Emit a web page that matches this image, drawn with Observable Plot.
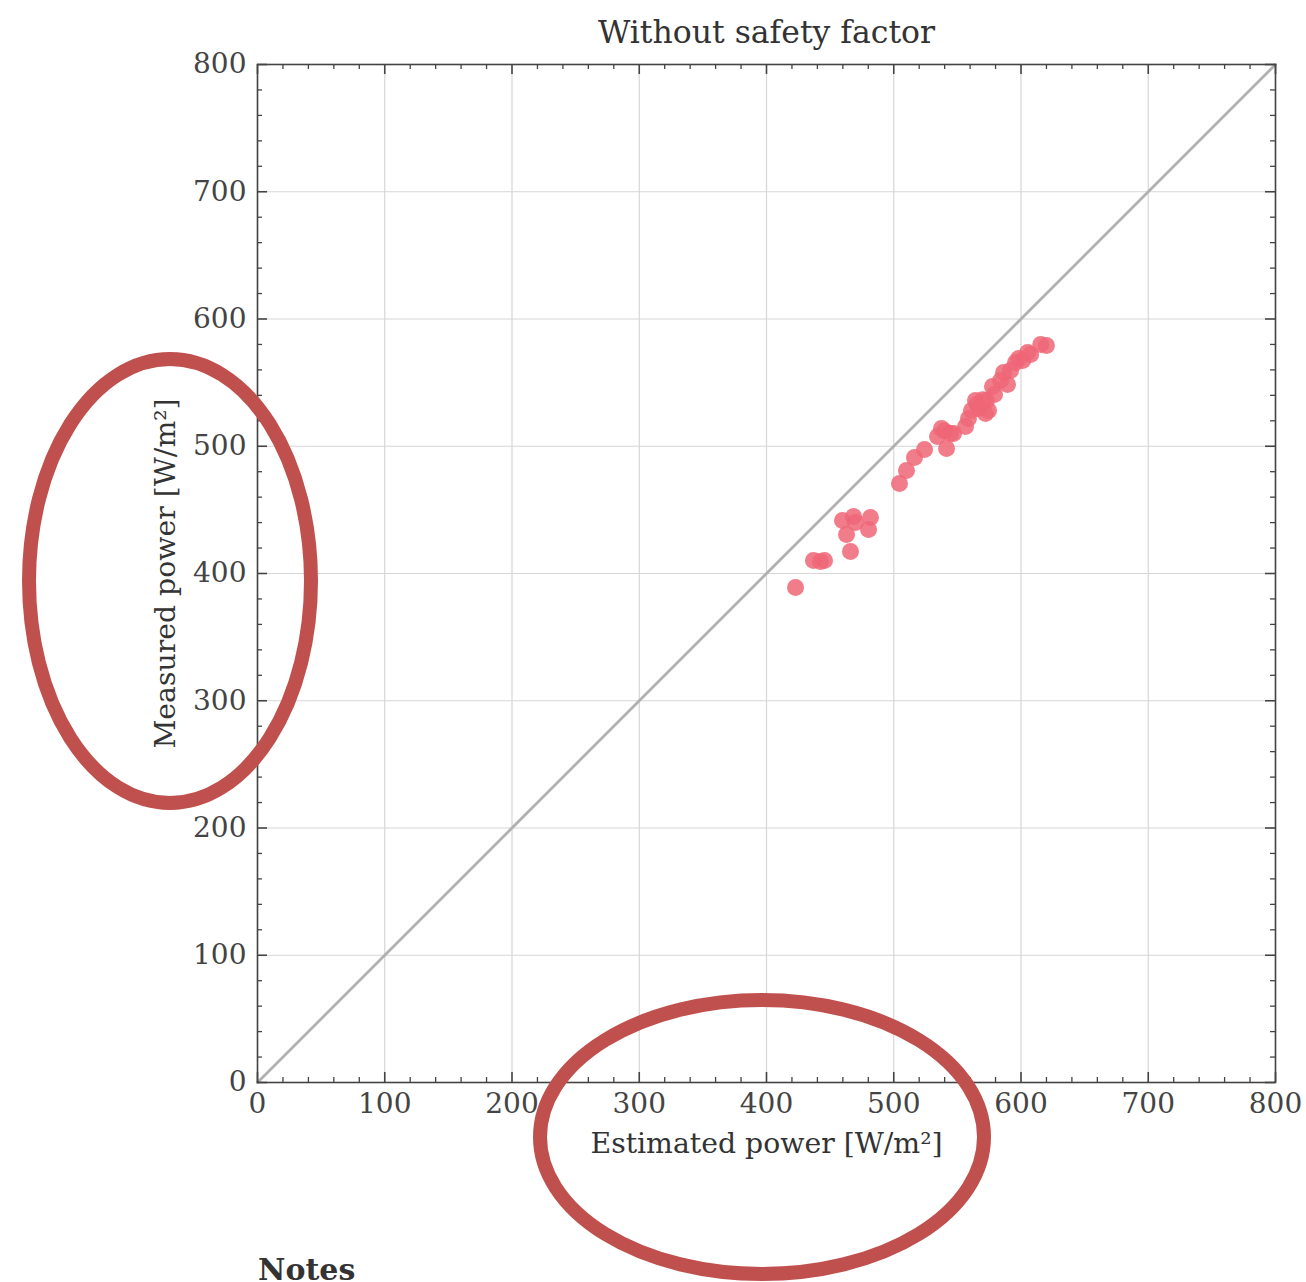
<!DOCTYPE html>
<html><head><meta charset="utf-8">
<script src="https://cdn.jsdelivr.net/npm/d3@7"></script>
<script src="https://cdn.jsdelivr.net/npm/@observablehq/plot@0.6"></script>
<style>
body{margin:0;background:#fff;}
#wrap{position:relative;width:1306px;height:1282px;overflow:hidden;font-family:"DejaVu Serif",serif;}
#notes{position:absolute;left:258px;top:1252px;font-weight:bold;font-size:30px;color:#333;font-family:"DejaVu Serif",serif;}
#marks{position:absolute;left:0;top:0;pointer-events:none;}
</style></head>
<body><div id="wrap"></div>
<script>
const titleText = "Without safety factor";
const xLabel = "Estimated power [W/m²]";
const yLabel = "Measured power [W/m²]";
const estimated = [422.8,436.9,442.4,445.6,459.7,462.9,466.0,468.4,469.9,481.7,480.2,504.5,510.0,516.3,524.2,534.4,537.5,541.5,544.6,547.0,556.4,558.7,561.1,564.2,567.4,572.1,574.5,572.9,577.6,579.2,583.9,586.3,589.4,591.8,595.7,598.1,601.3,605.2,607.6,615.5,620.0,540.0,565.5,570.0];
const measured  = [389.0,410.2,409.4,410.2,441.7,430.6,417.3,444.8,440.1,444.0,434.6,470.7,481.0,491.2,497.4,507.7,513.9,498.2,510.0,510.0,515.5,521.8,528.1,536.0,529.7,525.7,528.1,536.0,547.0,540.7,551.7,558.0,548.5,559.6,565.8,569.0,567.4,573.7,572.1,580.0,579.2,512.0,533.0,536.5];
const majorTicks = [0,100,200,300,400,500,600,700,800];
const minorTicks = [20,40,60,80,120,140,160,180,220,240,260,280,320,340,360,380,420,440,460,480,520,540,560,580,620,640,660,680,720,740,760,780];
const domain = [0, 800];
const diagonal = [{v:0},{v:800}];

const W = 1306, H = 1200, mL = 257, mR = 31, mT = 64, mB = 118;
const k = (W - mL - mR) / (domain[1] - domain[0]);
const majLen = 10 / k, minLen = 5 / k;
const pts = estimated.map((e, i) => ({e, m: measured[i]}));
const axisColor = "#444";

function inwardTicks(vals, len, sw) {
  return [
    Plot.ruleX(vals, {x: d => d, y1: domain[0], y2: domain[0] + len, stroke: axisColor, strokeWidth: sw}),
    Plot.ruleX(vals, {x: d => d, y1: domain[1], y2: domain[1] - len, stroke: axisColor, strokeWidth: sw}),
    Plot.ruleY(vals, {y: d => d, x1: domain[0], x2: domain[0] + len, stroke: axisColor, strokeWidth: sw}),
    Plot.ruleY(vals, {y: d => d, x1: domain[1], x2: domain[1] - len, stroke: axisColor, strokeWidth: sw})
  ];
}

const chart = Plot.plot({
  width: W, height: H,
  marginLeft: mL, marginRight: mR, marginTop: mT, marginBottom: mB,
  style: {fontFamily: "'DejaVu Serif', serif", color: axisColor, background: "#fff"},
  x: {domain, ticks: majorTicks, label: null},
  y: {domain, ticks: majorTicks, label: null},
  marks: [
    Plot.gridX(majorTicks, {stroke: "#d6d6d6", strokeOpacity: 1, strokeWidth: 1.2}),
    Plot.gridY(majorTicks, {stroke: "#d6d6d6", strokeOpacity: 1, strokeWidth: 1.2}),
    Plot.line(diagonal, {x: "v", y: "v", stroke: "#b0b0b0", strokeWidth: 2.8}),
    Plot.dot(pts, {x: "e", y: "m", r: 8.5, fill: "#EE6677", fillOpacity: 0.85, stroke: null}),
    ...inwardTicks(majorTicks, majLen, 1.6),
    ...inwardTicks(minorTicks, minLen, 1.3),
    Plot.frame({stroke: axisColor, strokeWidth: 1.6}),
    Plot.axisX(majorTicks, {anchor: "bottom", tickSize: 0, tickPadding: 11, fontSize: 28, label: null, fill: axisColor}),
    Plot.axisY(majorTicks, {anchor: "left", tickSize: 0, tickPadding: 11, fontSize: 28, label: null, fill: axisColor}),
    Plot.text([titleText], {frameAnchor: "top", dy: -32, lineAnchor: "middle", textAnchor: "middle", fontSize: 31.5, fill: "#333", text: d => d}),
    Plot.text([xLabel], {frameAnchor: "bottom", dy: 61, lineAnchor: "middle", textAnchor: "middle", fontSize: 28.3, fill: "#333", text: d => d}),
    Plot.text([yLabel], {frameAnchor: "left", dx: -92, lineAnchor: "middle", textAnchor: "middle", rotate: -90, fontSize: 28.3, fill: "#333", text: d => d})
  ]
});

const wrap = document.getElementById("wrap");
wrap.appendChild(chart);
const notes = document.createElement("div");
notes.id = "notes";
notes.textContent = "Notes";
wrap.appendChild(notes);

// hand-drawn annotation ellipses overlay
const ns = "http://www.w3.org/2000/svg";
const ov = document.createElementNS(ns, "svg");
ov.setAttribute("id", "marks");
ov.setAttribute("width", 1306);
ov.setAttribute("height", 1282);
const ellipses = [{cx: 170, cy: 581, rx: 141, ry: 222}, {cx: 762, cy: 1137, rx: 222, ry: 137}];
for (const e of ellipses) {
  const el = document.createElementNS(ns, "ellipse");
  for (const a in e) el.setAttribute(a, e[a]);
  el.setAttribute("fill", "none");
  el.setAttribute("stroke", "#C0504D");
  el.setAttribute("stroke-width", 14);
  ov.appendChild(el);
}
wrap.appendChild(ov);
</script>
</body></html>
